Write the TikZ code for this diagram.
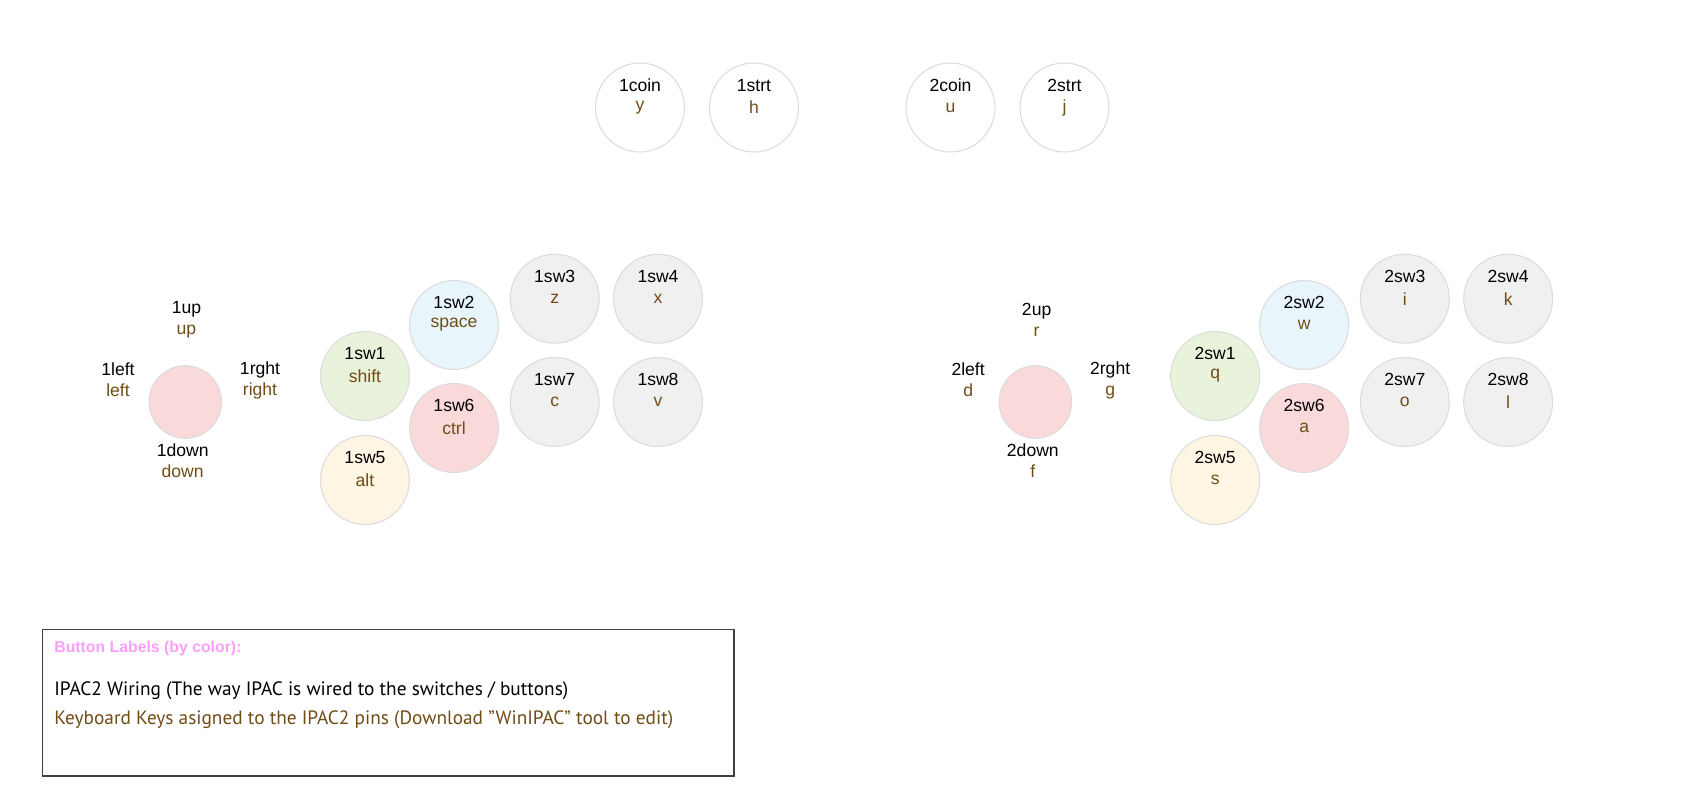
\documentclass[tikz,border=0pt]{standalone}
\usepackage{fontspec}
\setmainfont{Liberation Sans}
\newfontfamily\leyendafont{PT Sans}
\usepackage{xcolor}
\definecolor{marron}{RGB}{112,76,22}
\definecolor{rosaClaro}{RGB}{249,217,217}
\definecolor{verdeClaro}{RGB}{233,242,218}
\definecolor{celeste}{RGB}{232,246,252}
\definecolor{amarilloClaro}{RGB}{254,246,226}
\definecolor{grisClaro}{RGB}{240,240,240}
\definecolor{gris}{RGB}{220,220,220}
\definecolor{grisOscuro}{RGB}{64,64,64}
\definecolor{rosaFuerte}{RGB}{250,160,250}
\usepackage{tikz}
\usetikzlibrary{positioning}
\tikzstyle{boton}=[circle, draw=gris, line width=0.6pt,
                   minimum size=1.78cm, inner sep=0pt, outer sep=0pt]
\tikzstyle{palanca}=[circle, draw=gris, fill=rosaClaro, line width=0.6pt,
                   minimum size=1.452cm, inner sep=0pt, outer sep=0pt]
\tikzstyle{cable}=[font=\fontsize{10}{12}\selectfont, anchor=base,
                   yshift=12.6pt, inner sep=0pt]
\tikzstyle{tecla}=[font=\fontsize{10}{12}\selectfont, text=marron,
                   anchor=base, yshift=0pt, inner sep=0pt]
\tikzstyle{direccion}=[font=\fontsize{10}{12}\selectfont, align=center,
                   inner sep=0pt]
\tikzstyle{cuadro}=[draw=grisOscuro, line width=0.8pt, minimum width=13.834cm,
                   minimum height=2.934cm, inner sep=0pt]
\tikzstyle{texto}=[anchor=west, inner sep=0pt]

\begin{document}
\begin{tikzpicture}[x=0.02cm,y=-0.02cm]
    \useasboundingbox (0,0) rectangle (1702,795);

        % coin / start
        \draw (640,107.5) node (1coin) [boton,fill=white,label={[cable]center:1coin},label={[tecla]center:y}] {};
        \draw (754,107.5) node (1strt) [boton,fill=white,label={[cable]center:1strt},label={[tecla]center:h}] {};
        \draw (950.5,107.5) node (2coin) [boton,fill=white,label={[cable]center:2coin},label={[tecla]center:u}] {};
        \draw (1064.5,107.5) node (2strt) [boton,fill=white,label={[cable]center:2strt},label={[tecla]center:j}] {};

        \begin{scope}
            \draw (185.3,402) node (1palanca) [palanca] {};
            \draw (186.5,320) node (1up) [direccion] {1up\\\textcolor{marron}{up}};
            \draw (118,380) node (1left) [direccion] {1left\\\textcolor{marron}{left}};
            \draw (260,380) node (1rght) [direccion] {1rght\\\textcolor{marron}{right}};
            \draw (182.7,461) node (1down) [direccion] {1down\\\textcolor{marron}{down}};

            \draw (365,376) node (1sw1) [boton,fill=verdeClaro,label={[cable]center:1sw1},label={[tecla]center:shift}] {};
            \draw (454,325) node (1sw2) [boton,fill=celeste,label={[cable]center:1sw2},label={[tecla]center:space}] {};
            \draw (554.7,298.7) node (1sw3) [boton,fill=grisClaro,label={[cable]center:1sw3},label={[tecla]center:z}] {};
            \draw (658,298.7) node (1sw4) [boton,fill=grisClaro,label={[cable]center:1sw4},label={[tecla]center:x}] {};
            \draw (365,480) node (1sw5) [boton,fill=amarilloClaro,label={[cable]center:1sw5},label={[tecla]center:alt}] {};
            \draw (454,428) node (1sw6) [boton,fill=rosaClaro,label={[cable]center:1sw6},label={[tecla]center:ctrl}] {};
            \draw (554.7,402) node (1sw7) [boton,fill=grisClaro,label={[cable]center:1sw7},label={[tecla]center:c}] {};
            \draw (658,402) node (1sw8) [boton,fill=grisClaro,label={[cable]center:1sw8},label={[tecla]center:v}] {};
        \end{scope}

        \begin{scope}[xshift=17.006cm]
            \draw (185.3,402) node (2palanca) [palanca] {};
            \draw (186.5,320) node (2up) [direccion] {2up\\\textcolor{marron}{r}};
            \draw (118,380) node (2left) [direccion] {2left\\\textcolor{marron}{d}};
            \draw (260,380) node (2rght) [direccion] {2rght\\\textcolor{marron}{g}};
            \draw (182.7,461) node (2down) [direccion] {2down\\\textcolor{marron}{f}};

            \draw (365,376) node (2sw1) [boton,fill=verdeClaro,label={[cable]center:2sw1},label={[tecla]center:q}] {};
            \draw (454,325) node (2sw2) [boton,fill=celeste,label={[cable]center:2sw2},label={[tecla]center:w}] {};
            \draw (554.7,298.7) node (2sw3) [boton,fill=grisClaro,label={[cable]center:2sw3},label={[tecla]center:i}] {};
            \draw (658,298.7) node (2sw4) [boton,fill=grisClaro,label={[cable]center:2sw4},label={[tecla]center:k}] {};
            \draw (365,480) node (2sw5) [boton,fill=amarilloClaro,label={[cable]center:2sw5},label={[tecla]center:s}] {};
            \draw (454,428) node (2sw6) [boton,fill=rosaClaro,label={[cable]center:2sw6},label={[tecla]center:a}] {};
            \draw (554.7,402) node (2sw7) [boton,fill=grisClaro,label={[cable]center:2sw7},label={[tecla]center:o}] {};
            \draw (658,402) node (2sw8) [boton,fill=grisClaro,label={[cable]center:2sw8},label={[tecla]center:l}] {};
        \end{scope}

        % leyenda
        \draw (388.15,702.65) node (leyenda) [cuadro] {};
        \draw (54,648) node (titulo) [texto,font=\fontsize{9}{11}\selectfont\bfseries,text=rosaFuerte] {Button Labels (by color):};
        \draw (54,690.5) node (cableado) [texto,font=\leyendafont\fontsize{11}{13}\selectfont] {IPAC2 Wiring (The way IPAC is wired to the switches / buttons)};
        \draw (54,719.5) node (teclado) [texto,font=\leyendafont\fontsize{11}{13}\selectfont,text=marron] {Keyboard Keys asigned to the IPAC2 pins (Download ”WinIPAC” tool to edit)};

    \end{tikzpicture}
\end{document}
